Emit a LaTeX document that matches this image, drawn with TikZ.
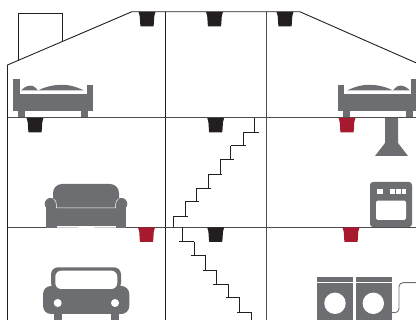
\documentclass[tikz,border=0pt]{standalone}
\definecolor{ink}{HTML}{231F20}
\definecolor{sprred}{HTML}{A6192E}
\definecolor{icon}{HTML}{6D6E71}
\tikzset{
  wall/.style={draw=ink,line width=0.9pt},
  thin wall/.style={draw=ink!80,line width=0.8pt},
  stair/.style={draw=ink,line width=0.8pt},
  pics/sprinkler/.style={code={
    \fill[#1,rounded corners=0.6pt] (-8.5,0) -- (8.5,0) -- (7.3,4) -- (6.6,14.5) -- (-6.6,14.5) -- (-7.3,4) -- cycle;
  }},
  pics/bedicon/.style={code={
    \fill[icon] (13,79) rectangle (20,111);
    \fill[icon] (87,85) rectangle (93,111);
    \fill[icon] (13,93.8) rectangle (93,111);
    \fill[icon] (18,111) rectangle (25,117);
    \fill[icon] (81,111) rectangle (88,117);
    \fill[icon] (21,90.5) .. controls (25,86) and (30,85) .. (33,86) .. controls (35,87) and (37,89) .. (38,90.5) -- cycle;
    \fill[icon] (38,90.5) .. controls (48,85) and (62,83.5) .. (72,86) .. controls (76,87) and (81,89) .. (84,90.5) -- cycle;
  }},
}
\begin{document}
\begin{tikzpicture}[x=1pt,y=-1pt]
\useasboundingbox (0,0) rectangle (416,320);
\begin{scope}
\clip (0,0) rectangle (416,320);
% chimney
\draw[wall,line width=0.8pt] (18.5,60) -- (18.5,13.2) -- (62,13.2) -- (62,41.7);
% house outline
\draw[wall] (7.5,320) -- (7.5,65) -- (131.7,11.8) -- (300,11.8) -- (416,62.8);
\draw[wall] (165.4,11.8) -- (165.4,320);
\draw[thin wall] (266,11.8) -- (266,320);
\draw[thin wall] (7.5,117.6) -- (416,117.6);
\draw[thin wall] (7.5,227) -- (416,227);
% sprinklers
\foreach \x/\y in {147/12,214.5/12,285/12,35/118,215.7/118,215.7/227.5}
  \pic at (\x,\y) {sprinkler=ink};
\foreach \x/\y in {347/118,146.5/227.5,351/227.5}
  \pic at (\x,\y) {sprinkler=sprred};
% beds
\pic {bedicon};
\pic[transform shape,xscale=-1] at (431,0) {bedicon};
% hood
\fill[icon] (385,118) -- (398,118) -- (398,143) -- (408,156) -- (375,156) -- (385,143) -- cycle;
% oven
\fill[icon,rounded corners=3pt] (370,182) rectangle (412,227);
\fill[white] (377,189) rectangle (383,194);
\fill[white] (390,189) rectangle (395,194);
\fill[white] (396.2,189) rectangle (401,194);
\fill[white] (402.2,189) rectangle (406,194);
\fill[white,rounded corners=1.5pt] (376,200.7) rectangle (406,220);
% sofa
\fill[icon,rounded corners=9pt] (53,212) -- (53,184) -- (119,184) -- (119,212) -- cycle;
\fill[icon] (46,204) rectangle (126,227.6);
\fill[icon] (50.5,203.8) circle (5.8);
\fill[icon] (121.5,203.8) circle (5.8);
\draw[white,line width=0.5pt] (53.5,198.8) .. controls (55.6,199.8) and (56.5,202) .. (56.5,208) -- (115.5,208) .. controls (115.5,202) and (116.4,199.8) .. (118.5,198.8);
\fill[white] (56.5,226.2) rectangle (116,227.6);
\fill[icon!35] (56.5,226.6) rectangle (78,227.4);
\fill[icon!35] (94,226.6) rectangle (116,227.4);
% car
\fill[icon,rounded corners=7pt] (51,290) -- (51,267.3) -- (121,267.3) -- (121,290) -- cycle;
\fill[icon,rounded corners=8pt] (43,286) rectangle (129.3,314);
\fill[white,rounded corners=6pt] (55.3,270.7) rectangle (117.3,289);
\fill[white] (57.7,303) circle (4);
\fill[white] (115,303) circle (4);
\fill[icon] (54,313) rectangle (62,320);
\fill[icon] (111,313) rectangle (119,320);
% stairs up
\draw[stair] (254.7,118) -- (254.7,132.7);
\draw[stair] (243.3,132.7) -- (258.7,132.7);
\draw[stair] (243.3,132.7) -- (243.3,145.7);
\draw[stair] (230.7,145.7) -- (245.7,145.7);
\draw[stair] (230.7,145.7) -- (230.7,159.7);
\draw[stair] (220,159.7) -- (233.7,159.7);
\draw[stair] (220,159.7) -- (220,174.3);
\draw[stair] (208.3,174.3) -- (222.3,174.3);
\draw[stair] (208.3,174.3) -- (208.3,188.7);
\draw[stair] (196.3,188.7) -- (211.3,188.7);
\draw[stair] (196.3,188.7) -- (196.3,201.3);
\draw[stair] (185.3,201.3) -- (199.3,201.3);
\draw[stair] (185.3,201.3) -- (185.3,216.7);
\draw[stair] (173,216.7) -- (188,216.7);
\draw[stair] (173,216.7) -- (173,227);
% stairs down
\draw[stair] (182,227) -- (182,241.7);
\draw[stair] (179,241.7) -- (194.3,241.7);
\draw[stair] (194.3,241.7) -- (194.3,255.3);
\draw[stair] (191.3,255.3) -- (205,255.3);
\draw[stair] (205,255.3) -- (205,270);
\draw[stair] (202.7,270) -- (216.7,270);
\draw[stair] (216.7,270) -- (216.7,284.3);
\draw[stair] (213.3,284.3) -- (228.7,284.3);
\draw[stair] (228.7,284.3) -- (228.7,297.3);
\draw[stair] (225.7,297.3) -- (239.7,297.3);
\draw[stair] (239.7,297.3) -- (239.7,312);
\draw[stair] (237.3,312) -- (251.7,312);
\draw[stair] (251.7,312) -- (251.7,320);
% laundry
\fill[icon] (317,277) rectangle (353,282);
\fill[icon] (317,283.5) rectangle (353,320);
\fill[white] (335,303.3) circle (10.7);
\fill[icon] (356,277) rectangle (392,282);
\fill[icon] (356,283.5) rectangle (392,320);
\fill[white] (373.3,303.3) circle (10.7);
\draw[icon,line width=0.9pt,rounded corners=4pt] (392,312.7) -- (399,312.7) -- (399,282.7) -- (417,282.7);
\end{scope}
\end{tikzpicture}
\end{document}
